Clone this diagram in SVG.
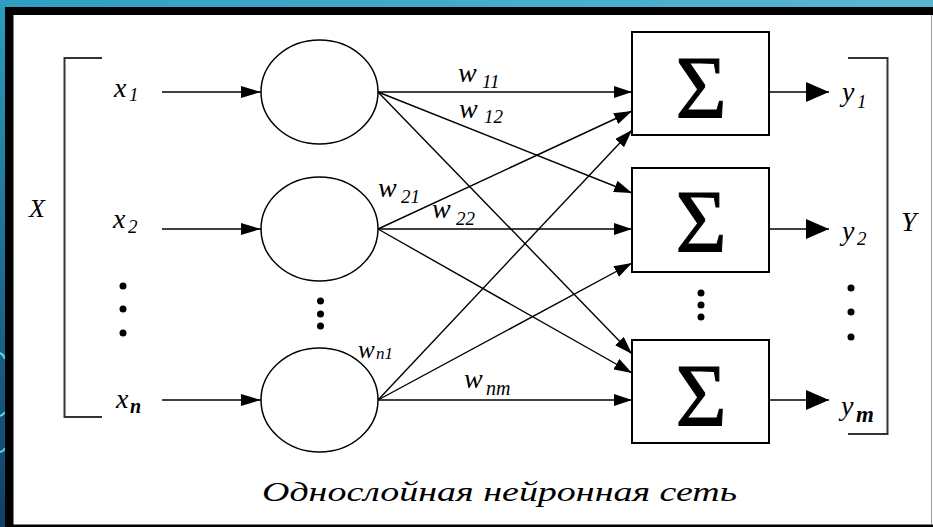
<svg xmlns="http://www.w3.org/2000/svg" width="933" height="527" viewBox="0 0 933 527">
<defs>
<linearGradient id="bgL" x1="0" y1="0" x2="0" y2="1">
<stop offset="0" stop-color="#2c9cc0"/>
<stop offset="1" stop-color="#103f66"/>
</linearGradient>
<linearGradient id="bgT" x1="0" y1="0" x2="1" y2="0">
<stop offset="0" stop-color="#2f9ec2"/>
<stop offset="1" stop-color="#58b8d2"/>
</linearGradient>
<marker id="aIn" markerUnits="userSpaceOnUse" markerWidth="20" markerHeight="12" refX="20" refY="6" orient="auto">
<path d="M0,0 L20,6 L0,12 z" fill="#000"/>
</marker>
<marker id="aBox" markerUnits="userSpaceOnUse" markerWidth="18" markerHeight="12" refX="18" refY="6" orient="auto">
<path d="M0,0 L18,6 L0,12 z" fill="#000"/>
</marker>
<marker id="aOut" markerUnits="userSpaceOnUse" markerWidth="23" markerHeight="20" refX="23" refY="10" orient="auto">
<path d="M0,0 L23,10 L0,20 z" fill="#000"/>
</marker>
</defs>
<style>
.ln{stroke:#000;stroke-width:1.4;fill:none}
.nd{stroke:#000;stroke-width:1.5;fill:#fff}
.bx{stroke:#000;stroke-width:2;fill:#fff}
.br{stroke:#333;stroke-width:2;fill:none}
.lb{font-family:"Liberation Serif","Times New Roman",serif;font-style:italic;fill:#000}
.sg{font-family:"Liberation Serif","Times New Roman",serif;font-size:88px;fill:#000;stroke:#000;stroke-width:1;text-anchor:middle}
.dot{fill:#000}
</style>
<!-- frame -->
<rect x="0" y="0" width="933" height="527" fill="url(#bgL)"/>
<rect x="0" y="0" width="933" height="8" fill="url(#bgT)"/>
<path d="M0,353 q4,2 5,6 M0,416 q4,-2 5,-4 M0,452 q4,-1 5,-4" stroke="#5cd0ee" stroke-width="2" fill="none"/>
<rect x="5" y="7" width="928" height="520" fill="#000"/>
<rect x="13.5" y="15" width="919.5" height="509.5" fill="#fff"/>
<line x1="931.5" y1="15" x2="931.5" y2="524.5" stroke="#999" stroke-width="1"/>

<!-- connectors -->
<g id="connectors">
<line class="ln" x1="162" y1="92" x2="261" y2="92" marker-end="url(#aIn)"/>
<line class="ln" x1="162" y1="229" x2="261" y2="229" marker-end="url(#aIn)"/>
<line class="ln" x1="162" y1="400" x2="261" y2="400" marker-end="url(#aIn)"/>

<line class="ln" x1="378" y1="92" x2="632" y2="92" marker-end="url(#aBox)"/>
<line class="ln" x1="378" y1="92" x2="632" y2="193" marker-end="url(#aBox)"/>
<line class="ln" x1="378" y1="92" x2="632" y2="354" marker-end="url(#aBox)"/>

<line class="ln" x1="378" y1="229" x2="632" y2="111" marker-end="url(#aBox)"/>
<line class="ln" x1="378" y1="229" x2="632" y2="229" marker-end="url(#aBox)"/>
<line class="ln" x1="378" y1="229" x2="632" y2="373" marker-end="url(#aBox)"/>

<line class="ln" x1="378" y1="400" x2="632" y2="130" marker-end="url(#aBox)"/>
<line class="ln" x1="378" y1="400" x2="632" y2="263" marker-end="url(#aBox)"/>
<line class="ln" x1="378" y1="400" x2="632" y2="400" marker-end="url(#aBox)"/>

<line class="ln" x1="769" y1="92" x2="829" y2="92" marker-end="url(#aOut)"/>
<line class="ln" x1="769" y1="229" x2="829" y2="229" marker-end="url(#aOut)"/>
<line class="ln" x1="769" y1="400" x2="829" y2="400" marker-end="url(#aOut)"/>
</g>

<!-- input bracket -->
<g id="input-bracket">
<polyline class="br" points="102,58 64.5,58 64.5,417 102,417"/>
<text class="lb" x="29" y="217" font-size="26">X</text>
</g>

<!-- inputs -->
<g id="inputs">
<text class="lb" x="114" y="97" font-size="28">x<tspan font-size="19" x="129" y="101">1</tspan></text>
<text class="lb" x="113" y="228" font-size="28">x<tspan font-size="19" x="128" y="233">2</tspan></text>
<circle class="dot" cx="123" cy="286" r="3.5"/>
<circle class="dot" cx="123" cy="309" r="3.5"/>
<circle class="dot" cx="123" cy="333" r="3.5"/>
<text class="lb" x="116" y="408" font-size="28">x<tspan font-size="20" font-weight="bold" x="130" y="413">n</tspan></text>
</g>

<!-- neurons -->
<g id="neuron-1"><ellipse class="nd" cx="319.5" cy="92" rx="58.5" ry="52"/></g>
<g id="neuron-2"><ellipse class="nd" cx="319.5" cy="229" rx="58.5" ry="52"/></g>
<g id="neuron-dots">
<circle class="dot" cx="320.5" cy="301" r="3.5"/>
<circle class="dot" cx="320.5" cy="314" r="3.5"/>
<circle class="dot" cx="320.5" cy="326" r="3.5"/>
</g>
<g id="neuron-n"><ellipse class="nd" cx="319.5" cy="400" rx="58.5" ry="52"/></g>

<!-- weights -->
<g id="weights">
<text class="lb" x="458" y="82" font-size="28">w<tspan font-size="19" x="482" y="88">11</tspan></text>
<text class="lb" x="459" y="118" font-size="28">w<tspan font-size="19" x="484" y="123">12</tspan></text>
<text class="lb" x="378" y="197" font-size="28">w<tspan font-size="19" x="401" y="203">21</tspan></text>
<text class="lb" x="432" y="218" font-size="28">w<tspan font-size="19" x="456" y="225">22</tspan></text>
<text class="lb" x="358" y="358" font-size="25">w<tspan font-size="17" x="376" y="359">n1</tspan></text>
<text class="lb" x="464" y="388" font-size="28">w<tspan font-size="20" x="486" y="395">nm</tspan></text>
</g>

<!-- summators -->
<g id="sum-1"><rect class="bx" x="632" y="32" width="137" height="103"/><text class="sg" x="701" y="117">Σ</text></g>
<g id="sum-2"><rect class="bx" x="632" y="168" width="137" height="104"/><text class="sg" x="701" y="251">Σ</text></g>
<g id="sum-dots">
<circle class="dot" cx="701" cy="293" r="3.5"/>
<circle class="dot" cx="701" cy="305" r="3.5"/>
<circle class="dot" cx="701" cy="317" r="3.5"/>
</g>
<g id="sum-m"><rect class="bx" x="632" y="340" width="137" height="103"/><text class="sg" x="701" y="425">Σ</text></g>

<!-- outputs -->
<g id="outputs">
<text class="lb" x="842" y="101" font-size="28">y<tspan font-size="19" x="857" y="108">1</tspan></text>
<text class="lb" x="842" y="240" font-size="28">y<tspan font-size="19" x="857" y="245">2</tspan></text>
<circle class="dot" cx="851" cy="288" r="3.5"/>
<circle class="dot" cx="851" cy="312" r="3.5"/>
<circle class="dot" cx="851" cy="337" r="3.5"/>
<text class="lb" x="841" y="415" font-size="28">y<tspan font-size="23" font-weight="bold" x="856" y="422">m</tspan></text>
</g>

<!-- output bracket -->
<g id="output-bracket">
<polyline class="br" points="848,58 887.5,58 887.5,434 848,434"/>
<text class="lb" x="901" y="231" font-size="28">Y</text>
</g>

<!-- caption -->
<g id="caption">
<text class="lb" x="262" y="501" font-size="27" textLength="475" lengthAdjust="spacingAndGlyphs">Однослойная нейронная сеть</text>
</g>
</svg>
